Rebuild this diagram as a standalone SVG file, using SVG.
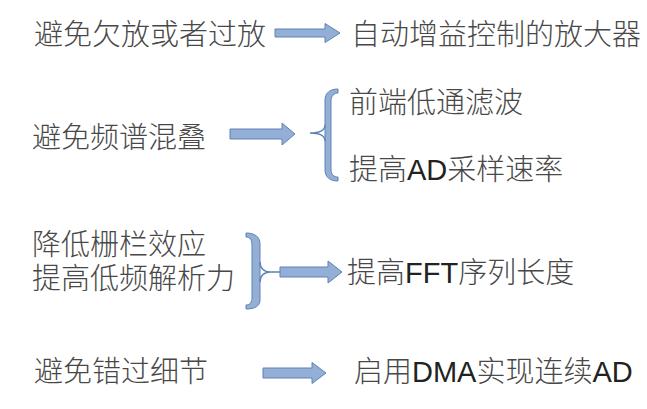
<svg xmlns="http://www.w3.org/2000/svg" width="647" height="409" viewBox="0 0 647 409">
<defs>
<style>
.t{font-family:"Liberation Sans","Noto Sans CJK SC",sans-serif;font-size:29px;font-weight:300;fill:#484848;}
.lat{fill:#222;font-weight:400;}
.arr{fill:#93afd6;stroke:#5f82b5;stroke-width:1;}
.br{fill:#93afd6;stroke:#5f82b5;stroke-width:1;}
.bk{fill:none;stroke:#5f82b5;stroke-width:1.5;}
</style>
</defs>
<rect width="647" height="409" fill="#ffffff"/>
<g id="n1"><text class="t" x="34" y="45">避免欠放或者过放</text></g>
<g id="n2"><text class="t" x="351" y="45">自动增益控制的放大器</text></g>
<g id="n3"><text class="t" x="32" y="148">避免频谱混叠</text></g>
<g id="n4"><text class="t" x="349" y="113">前端低通滤波</text></g>
<g id="n5"><text class="t" x="349" y="180">提高<tspan class="lat">AD</tspan>采样速率</text></g>
<g id="n6"><text class="t" x="32" y="255">降低栅栏效应</text><text class="t" x="32" y="289">提高低频解析力</text></g>
<g id="n7"><text class="t" x="347" y="283">提高<tspan class="lat">FFT</tspan>序列长度</text></g>
<g id="n8"><text class="t" x="34" y="382">避免错过细节</text></g>
<g id="n9"><text class="t" x="354" y="382">启用<tspan class="lat">DMA</tspan>实现连续<tspan class="lat">AD</tspan></text></g>
<g id="connectors">
<path class="arr" d="M275,29 L325,29 L325,23.5 L340,33 L325,42.5 L325,37 L275,37 Z"/>
<path class="arr" d="M230,129 L282,129 L282,123 L295,134 L282,145 L282,139 L230,139 Z"/>
<path class="br" d="M338,89 C330,89 325,93 325,100 L325,170 C325,177 330,181 338,181 L338,177 C334,177 331,175 331,169 L331,101 C331,96 334,93 338,93 Z"/>
<path class="bk" d="M325,125 C325,130 320,133 310,133 C320,133 325,136 325,141"/>
<path class="br" d="M246,233 C255,233 260,237 260,244 L260,300 C260,306 255,309 246,309 L246,305 C250,305 252,302 252,298 L252,246 C252,240 250,237 246,237 Z"/>
<path class="bk" d="M260,262 C260,268 264,272 270,272 C264,272 260,276 260,282 M270,272 L280,272"/>
<path class="arr" d="M280,267 L328,267 L328,261 L342,272 L328,283 L328,277 L280,277 Z"/>
<path class="arr" d="M263,368 L312,368 L312,362.5 L326,373 L312,383.5 L312,378 L263,378 Z"/>
</g>
</svg>
